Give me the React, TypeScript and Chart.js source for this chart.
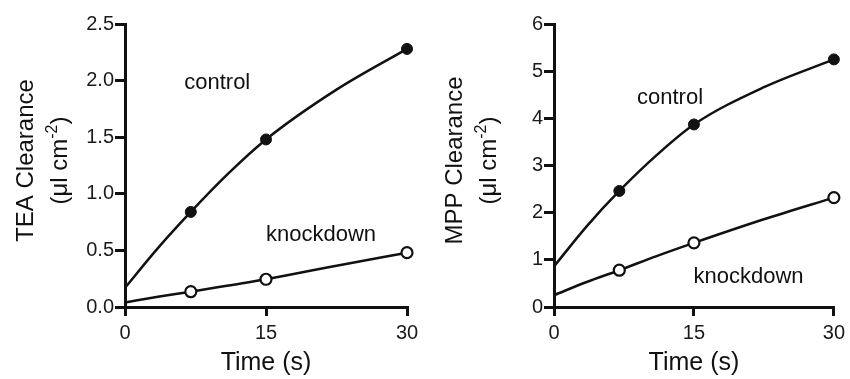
import React, { useEffect, useRef } from 'react';
import { Chart, registerables } from 'chart.js';

Chart.register(...registerables);

const FONT = '"Liberation Sans", Arial, Helvetica, sans-serif';
const INK = '#111111';

// ---- data ----
const sampleTimes = [7, 15, 30];
const fitTimes = [0, 3.5, 7, 11, 15, 22.5, 30];
const timeTicks = [0, 15, 30];

const teaControl = [0.84, 1.48, 2.28];
const teaKnockdown = [0.135, 0.245, 0.48];
const teaControlFit = [0.17, 0.52, 0.84, 1.18, 1.48, 1.92, 2.28];
const teaKnockdownFit = [0.04, 0.09, 0.135, 0.19, 0.245, 0.365, 0.48];
const teaTicks = [0, 0.5, 1.0, 1.5, 2.0, 2.5];

const mppControl = [2.46, 3.87, 5.25];
const mppKnockdown = [0.78, 1.36, 2.32];
const mppControlFit = [0.86, 1.71, 2.46, 3.22, 3.87, 4.66, 5.25];
const mppKnockdownFit = [0.25, 0.53, 0.78, 1.08, 1.36, 1.86, 2.32];
const mppTicks = [0, 1, 2, 3, 4, 5, 6];

const seriesNames = ['control', 'knockdown'];
const teaLabelPos = [
  [6.3, 1.98],
  [15.0, 0.636],
];
const mppLabelPos = [
  [8.9, 4.43],
  [14.95, 0.636],
];

type PanelProps = {
  left: number;
  width: number;
  axisWidth: number;
  rightPad: number;
  yTicks: number[];
  decimals: number;
  yTitle: string;
  control: number[];
  knockdown: number[];
  controlFit: number[];
  knockdownFit: number[];
  labelPos: number[][];
};

const HEIGHT = 379;

function Panel(p: PanelProps) {
  const ref = useRef<HTMLCanvasElement | null>(null);
  useEffect(() => {
    if (!ref.current) return;
    const textPlugin = {
      id: 'panelText',
      afterDraw(chart: any) {
        const ctx = chart.ctx;
        const area = chart.chartArea;
        const xs = chart.scales.x;
        const ys = chart.scales.y;
        ctx.save();
        ctx.fillStyle = INK;
        // series labels
        ctx.font = `22px ${FONT}`;
        ctx.textAlign = 'left';
        ctx.textBaseline = 'middle';
        seriesNames.forEach((name, i) => {
          const [vx, vy] = p.labelPos[i];
          ctx.fillText(name, xs.getPixelForValue(vx), ys.getPixelForValue(vy));
        });
        // x title
        ctx.font = `25px ${FONT}`;
        ctx.textAlign = 'center';
        ctx.textBaseline = 'middle';
        ctx.fillText('Time (s)', (area.left + area.right) / 2, area.bottom + 56);
        // y title (rotated)
        const cy = (area.top + area.bottom) / 2 - 5;
        ctx.save();
        ctx.translate(area.left - 92, cy);
        ctx.rotate(-Math.PI / 2);
        ctx.textAlign = 'center';
        ctx.textBaseline = 'alphabetic';
        ctx.font = `24px ${FONT}`;
        ctx.fillText(p.yTitle, 0, 0);
        ctx.restore();
        ctx.save();
        ctx.translate(area.left - 58, cy);
        ctx.rotate(-Math.PI / 2);
        ctx.textAlign = 'left';
        ctx.textBaseline = 'alphabetic';
        const mainFont = `24px ${FONT}`;
        const supFont = `16px ${FONT}`;
        const parts = [
          { t: '(\u03bcl cm', f: mainFont, dy: 0 },
          { t: '-2', f: supFont, dy: -10 },
          { t: ')', f: mainFont, dy: 0 },
        ];
        let total = 0;
        parts.forEach((pt) => {
          ctx.font = pt.f;
          total += ctx.measureText(pt.t).width;
        });
        let x = -total / 2;
        parts.forEach((pt) => {
          ctx.font = pt.f;
          ctx.fillText(pt.t, x, pt.dy);
          x += ctx.measureText(pt.t).width;
        });
        ctx.restore();
        ctx.restore();
      },
    };

    const lineStyle = {
      showLine: true,
      pointRadius: 0,
      borderColor: INK,
      borderWidth: 2.5,
      cubicInterpolationMode: 'monotone',
      order: 2,
      clip: false,
    };

    const chart = new Chart(ref.current, {
      type: 'scatter',
      data: {
        datasets: [
          {
            label: 'control fit',
            data: fitTimes.map((x, i) => ({ x, y: p.controlFit[i] })),
            ...lineStyle,
          },
          {
            label: 'knockdown fit',
            data: fitTimes.map((x, i) => ({ x, y: p.knockdownFit[i] })),
            ...lineStyle,
          },
          {
            label: 'control',
            data: sampleTimes.map((x, i) => ({ x, y: p.control[i] })),
            showLine: false,
            pointRadius: 5.5,
            pointBackgroundColor: INK,
            pointBorderColor: INK,
            pointBorderWidth: 1,
            order: 0,
            clip: false,
          },
          {
            label: 'knockdown',
            data: sampleTimes.map((x, i) => ({ x, y: p.knockdown[i] })),
            showLine: false,
            pointRadius: 5.5,
            pointBackgroundColor: '#ffffff',
            pointBorderColor: INK,
            pointBorderWidth: 2.2,
            order: 0,
            clip: false,
          },
        ],
      } as any,
      options: {
        responsive: false,
        animation: false,
        events: [],
        layout: { padding: { top: 24, right: p.rightPad, left: 0, bottom: 0 } },
        plugins: { legend: { display: false }, tooltip: { enabled: false }, title: { display: false } },
        scales: {
          x: {
            type: 'linear',
            min: 0,
            max: 30,
            afterBuildTicks: (s: any) => {
              s.ticks = timeTicks.map((v) => ({ value: v }));
            },
            afterFit: (s: any) => {
              s.height = 72;
            },
            border: { display: true, color: INK, width: 3 },
            grid: { drawOnChartArea: false, drawTicks: true, tickLength: 9, color: INK, lineWidth: 3 },
            ticks: {
              color: '#1a1a1a',
              font: { family: FONT, size: 20 },
              padding: 5,
              maxRotation: 0,
              callback: (v: any) => String(v),
            },
          },
          y: {
            type: 'linear',
            min: p.yTicks[0],
            max: p.yTicks[p.yTicks.length - 1],
            afterBuildTicks: (s: any) => {
              s.ticks = p.yTicks.map((v) => ({ value: v }));
            },
            afterFit: (s: any) => {
              s.width = p.axisWidth;
            },
            border: { display: true, color: INK, width: 3 },
            grid: { drawOnChartArea: false, drawTicks: true, tickLength: 10, color: INK, lineWidth: 3 },
            ticks: {
              color: '#1a1a1a',
              font: { family: FONT, size: 20 },
              padding: 1,
              callback: (v: any) => Number(v).toFixed(p.decimals),
            },
          },
        },
      } as any,
      plugins: [textPlugin],
    });
    return () => chart.destroy();
  }, []);
  return (
    <canvas
      ref={ref}
      width={p.width}
      height={HEIGHT}
      style={{ position: 'absolute', left: p.left, top: 0, width: p.width, height: HEIGHT }}
    />
  );
}

export default function App() {
  return (
    <div style={{ position: 'absolute', left: 0, top: 0, width: 850, height: HEIGHT, background: '#fff', overflow: 'hidden' }}>
      <Panel
        left={0}
        width={425}
        axisWidth={125}
        rightPad={18}
        yTicks={teaTicks}
        decimals={1}
        yTitle="TEA Clearance"
        control={teaControl}
        knockdown={teaKnockdown}
        controlFit={teaControlFit}
        knockdownFit={teaKnockdownFit}
        labelPos={teaLabelPos}
      />
      <Panel
        left={430}
        width={420}
        axisWidth={124}
        rightPad={13}
        yTicks={mppTicks}
        decimals={0}
        yTitle="MPP Clearance"
        control={mppControl}
        knockdown={mppKnockdown}
        controlFit={mppControlFit}
        knockdownFit={mppKnockdownFit}
        labelPos={mppLabelPos}
      />
    </div>
  );
}
